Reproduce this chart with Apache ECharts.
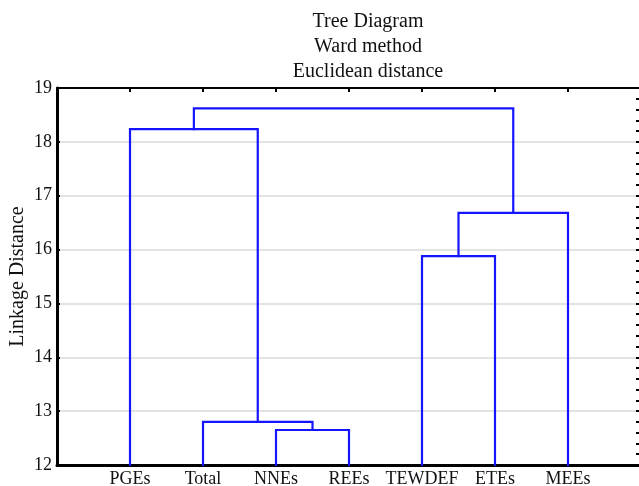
<!DOCTYPE html>
<html>
<head>
<meta charset="utf-8">
<script src="https://cdn.jsdelivr.net/npm/echarts@6/dist/echarts.min.js"></script>
<style>
  html, body { margin: 0; padding: 0; background: #fff; }
  #chart { width: 639px; height: 486px; }
</style>
</head>
<body>
<div id="chart"></div>
<script>
// Leaves of the tree, left to right
const leaves = ['PGEs', 'Total', 'NNEs', 'REEs', 'TEWDEF', 'ETEs', 'MEEs'];

// Joining steps (linkage): cluster ids < leaves.length are leaves,
// larger ids refer to the cluster formed at step (id - leaves.length)
const joinLeft   = [2, 1, 4, 9, 0, 11];
const joinRight  = [3, 7, 5, 6, 8, 10];
const joinHeight = [12.65, 12.80, 15.88, 16.68, 18.235, 18.62];

// Axis ticks
const yTicks = [12, 13, 14, 15, 16, 17, 18, 19];

const FONT = '"Liberation Serif", "DejaVu Serif", serif';

// Position (x) and height of each cluster; leaves sit at 1..n, floor of the axis
const yMin = yTicks[0];
const yMax = yTicks[yTicks.length - 1];
const nodeX = leaves.map((_, i) => i + 1);
const nodeH = leaves.map(() => yMin);

const linkSeries = [];
joinLeft.forEach((a, k) => {
  const b = joinRight[k];
  const h = joinHeight[k];
  linkSeries.push({
    type: 'line',
    xAxisIndex: 0,
    yAxisIndex: 0,
    symbol: 'none',
    silent: true,
    lineStyle: { color: '#1414ff', width: 2.2, join: 'miter', cap: 'square' },
    data: [[nodeX[a], nodeH[a]], [nodeX[a], h], [nodeX[b], h], [nodeX[b], nodeH[b]]]
  });
  nodeX.push((nodeX[a] + nodeX[b]) / 2);
  nodeH.push(h);
});

const chart = echarts.init(document.getElementById('chart'), null, { renderer: 'canvas' });
chart.setOption({
  animation: false,
  backgroundColor: '#ffffff',
  title: {
    text: 'Tree Diagram\nWard method\nEuclidean distance',
    left: 363,
    textAlign: 'center',
    top: 4,
    textStyle: { fontFamily: FONT, fontWeight: 'normal', fontSize: 20, color: '#111', lineHeight: 25 }
  },
  grid: { left: 57, right: -2, top: 88, bottom: 21, containLabel: false, outerBoundsMode: 'none' },
  xAxis: [
    {
      type: 'value', position: 'bottom', min: 0, max: leaves.length + 1, interval: 1,
      axisLine: { show: true, onZero: false, lineStyle: { color: '#000', width: 3 } },
      axisTick: { show: false },
      splitLine: { show: false },
      axisLabel: {
        fontFamily: FONT, fontSize: 18, color: '#111', margin: 5,
        formatter: v => (v >= 1 && v <= leaves.length) ? leaves[v - 1] : ''
      }
    },
    {
      type: 'value', position: 'top', min: 0, max: leaves.length + 1, interval: 1,
      axisLine: { show: true, onZero: false, lineStyle: { color: '#000', width: 2 } },
      axisTick: { show: true, inside: true, length: 4, lineStyle: { color: '#000', width: 2 } },
      splitLine: { show: false },
      axisLabel: { show: false }
    }
  ],
  yAxis: [
    {
      type: 'value', position: 'left', min: yMin, max: yMax, interval: 1,
      axisLine: { show: true, onZero: false, lineStyle: { color: '#000', width: 3 } },
      axisTick: { show: true, inside: true, length: 3, lineStyle: { color: '#000', width: 2 } },
      minorTick: { show: true, splitNumber: 5, length: 2, lineStyle: { color: '#000', width: 2 } },
      splitLine: { show: true, lineStyle: { color: '#dadada', width: 1.5 } },
      axisLabel: {
        fontFamily: FONT, fontSize: 18, color: '#111', margin: 5,
        formatter: v => yTicks.includes(v) ? String(v) : ''
      },
      name: 'Linkage Distance',
      nameLocation: 'middle',
      nameGap: 29,
      nameMoveOverlap: false,
      nameRotate: 90,
      nameTextStyle: { fontFamily: FONT, fontSize: 20, color: '#111' }
    },
    {
      type: 'value', position: 'right', min: yMin, max: yMax, interval: 1,
      axisLine: { show: true, onZero: false, lineStyle: { color: '#000', width: 2 } },
      axisTick: { show: true, inside: true, length: 5, lineStyle: { color: '#000', width: 2 } },
      minorTick: { show: true, splitNumber: 5, length: 5, lineStyle: { color: '#000', width: 2 } },
      splitLine: { show: false },
      axisLabel: { show: false }
    }
  ],
  series: linkSeries
});
</script>
</body>
</html>
